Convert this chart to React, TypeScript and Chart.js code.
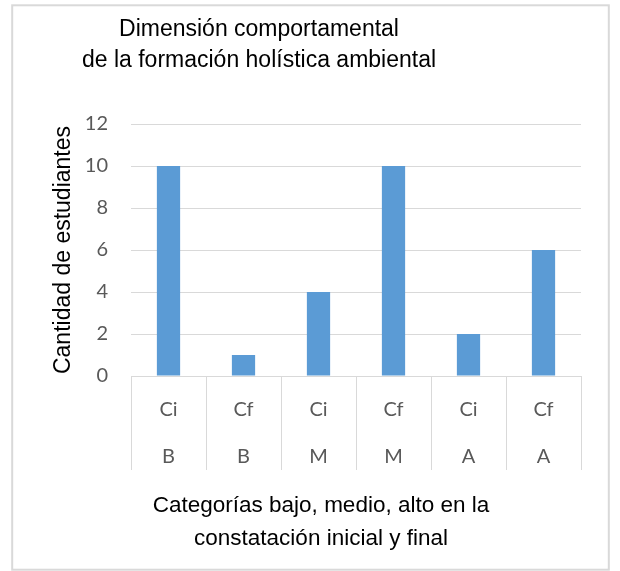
import React, { useEffect, useRef } from "react";
import { Chart, registerables } from "chart.js";

Chart.register(...registerables);

// ---- data ----
const stageLabels = ["Ci", "Cf", "Ci", "Cf", "Ci", "Cf"];
const levelLabels = ["B", "B", "M", "M", "A", "A"];
const studentCounts = [10, 1, 4, 10, 2, 6];
const yTickValues = [0, 2, 4, 6, 8, 10, 12];
const titleLines = ["Dimensión comportamental", "de la formación holística ambiental"];
const xTitleLines = ["Categorías bajo, medio, alto en la", "constatación inicial y final"];
const yTitleText = "Cantidad de estudiantes";

const BAR_COLOR = "#5B9BD5";
const GRID_COLOR = "#D9D9D9";
const TICK_COLOR = "#595959";
const TEXT_FONT = '"Liberation Sans", Arial, sans-serif';
const TICK_FONT = 'Lato, "Open Sans", sans-serif';

const decorPlugin = {
  id: "decor",
  beforeDraw(chart: any) {
    const ctx = chart.ctx;
    ctx.save();
    ctx.fillStyle = "#ffffff";
    ctx.fillRect(0, 0, chart.width, chart.height);
    ctx.strokeStyle = GRID_COLOR;
    ctx.lineWidth = 2;
    ctx.strokeRect(12.2, 5.3, 596.6, 564.4);
    ctx.restore();
  },
  afterDraw(chart: any) {
    const ctx = chart.ctx;
    ctx.save();
    ctx.fillStyle = "#000000";
    ctx.textAlign = "center";
    ctx.textBaseline = "alphabetic";
    ctx.font = `23px ${TEXT_FONT}`;
    titleLines.forEach((line, i) => {
      ctx.fillText(line, 259, 36 + i * 31);
    });
    ctx.font = `22.5px ${TEXT_FONT}`;
    xTitleLines.forEach((line, i) => {
      ctx.fillText(line, 321, 512 + i * 33);
    });
    ctx.restore();
  },
};

export default function App() {
  const canvasRef = useRef<HTMLCanvasElement | null>(null);

  useEffect(() => {
    const canvas = canvasRef.current;
    if (!canvas) return;
    const labels = stageLabels.map((s, i) => [s, levelLabels[i]]);
    const chart = new Chart(canvas, {
      type: "bar",
      data: {
        labels,
        datasets: [
          {
            data: studentCounts,
            backgroundColor: BAR_COLOR,
            borderWidth: 0,
            barPercentage: 0.31,
            categoryPercentage: 1,
          },
        ],
      },
      plugins: [decorPlugin],
      options: {
        responsive: false,
        animation: false,
        layout: { padding: { top: 124, right: 39, left: 0, bottom: 0 } },
        plugins: {
          legend: { display: false },
          tooltip: { enabled: false },
          title: { display: false },
        },
        scales: {
          x: {
            offset: true,
            grid: {
              offset: true,
              drawOnChartArea: false,
              drawTicks: true,
              tickLength: 94,
              color: GRID_COLOR,
              lineWidth: 1,
            },
            border: { display: true, color: GRID_COLOR, width: 1 },
            ticks: {
              padding: -84,
              color: TICK_COLOR,
              autoSkip: false,
              maxRotation: 0,
              font: { family: TICK_FONT, size: 20, lineHeight: "47px" },
            },
            afterFit(scale: any) {
              scale.height = 195;
            },
          },
          y: {
            min: yTickValues[0],
            max: yTickValues[yTickValues.length - 1],
            ticks: {
              stepSize: yTickValues[1] - yTickValues[0],
              padding: 23,
              color: TICK_COLOR,
              font: { family: TICK_FONT, size: 20 },
            },
            grid: { color: GRID_COLOR, lineWidth: 1, drawTicks: false },
            border: { display: false },
            title: {
              display: true,
              text: yTitleText,
              color: "#000000",
              font: { family: TEXT_FONT, size: 23 },
              padding: { top: 50, bottom: 0 },
            },
            afterFit(scale: any) {
              scale.width = 131;
            },
          },
        },
      } as any,
    });
    return () => chart.destroy();
  }, []);

  return (
    <div style={{ position: "absolute", left: 0, top: 0, width: 620, height: 571, background: "#fff" }}>
      <canvas ref={canvasRef} width={620} height={571} />
    </div>
  );
}
